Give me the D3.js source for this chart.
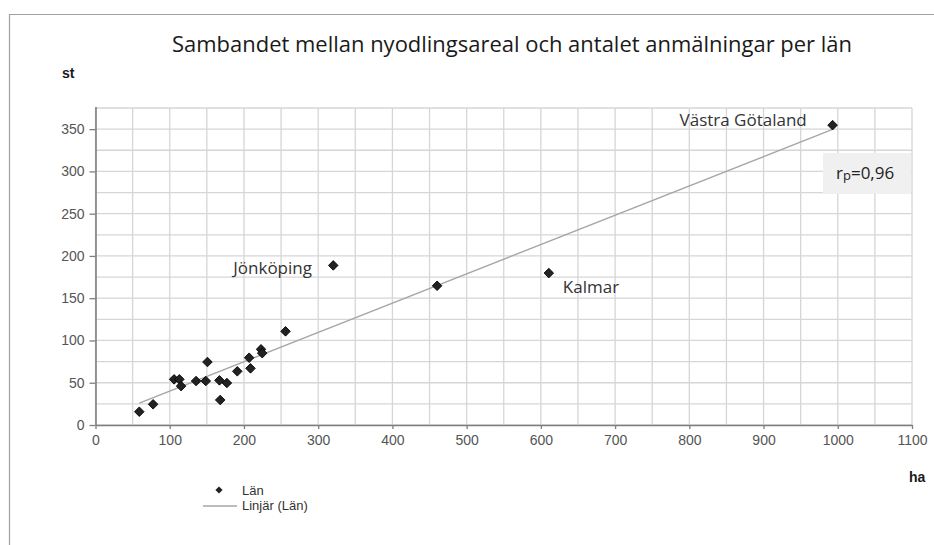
<!DOCTYPE html>
<html>
<head>
<meta charset="utf-8">
<script src="https://cdn.jsdelivr.net/npm/d3@7"></script>
<style>
  html, body { margin: 0; padding: 0; background: #fff; }
  svg { display: block; }
</style>
</head>
<body>
<svg id="chart" width="934" height="545"></svg>
<script>
// Nyodlingsareal (ha) and antal anmälningar (st) for each of the 21 län
const areaHa = [59, 77.6, 105.9, 113, 115.3, 135.5, 148.6, 150.8, 167, 168, 177,
                191, 207, 208.8, 223, 224.6, 256, 320.3, 460.2, 610.7, 993];
const registrations = [15.7, 24.5, 54, 54, 46, 52, 52, 74.5, 52.8, 29.6, 49.7,
                       63.5, 79.6, 67, 89.5, 85, 110.8, 188.8, 164.7, 179.7, 354.7];

// Named län shown next to their points (index into the arrays above)
const namedLan = ["Jönköping", "Kalmar", "Västra Götaland"];
const namedIndex = [17, 19, 20];

const xTicks = [0, 100, 200, 300, 400, 500, 600, 700, 800, 900, 1000, 1100];
const yTicks = [0, 50, 100, 150, 200, 250, 300, 350];
const xGrid = d3.range(0, 1101, 50);
const yGrid = d3.range(0, 376, 25);

const titleText = "Sambandet mellan nyodlingsareal och antalet anmälningar per län";
const corrText = { base: "r", sub: "p", rest: "=0,96" };
const legendItems = ["Län", "Linjär (Län)"];

const svg = d3.select("#chart");

const x = d3.scaleLinear().domain([0, 1100]).range([95.5, 912]);
const y = d3.scaleLinear().domain([0, 375]).range([425, 108]);

// chart-area border (top and left edges visible)
svg.append("path")
  .attr("d", "M9.5,545 V14.5 H934")
  .attr("fill", "none").attr("stroke", "#a0a0a0").attr("stroke-width", 1.2);

const textFont = "'Open Sans', 'Noto Sans', sans-serif";
const axisFont = "'Liberation Sans', Arial, sans-serif";

// title
svg.append("text")
  .attr("x", 512).attr("y", 52)
  .attr("text-anchor", "middle")
  .attr("font-family", textFont)
  .attr("font-size", 21)
  .attr("fill", "#1a1a1a")
  .attr("textLength", 680).attr("lengthAdjust", "spacingAndGlyphs")
  .text(titleText);

// axis unit labels
svg.append("text").attr("x", 62).attr("y", 78)
  .attr("font-family", axisFont)
  .attr("font-weight", "bold").attr("font-size", 14).attr("fill", "#1a1a1a")
  .text("st");
svg.append("text").attr("x", 909).attr("y", 482)
  .attr("font-family", axisFont)
  .attr("font-weight", "bold").attr("font-size", 14).attr("fill", "#1a1a1a")
  .text("ha");

// grid
const grid = svg.append("g").attr("stroke", "#d6d6d6").attr("stroke-width", 1.3);
grid.selectAll("line.v").data(xGrid).join("line").attr("class", "v")
  .attr("x1", d => x(d)).attr("x2", d => x(d))
  .attr("y1", y(0)).attr("y2", y(375));
grid.selectAll("line.h").data(yGrid).join("line").attr("class", "h")
  .attr("x1", x(0)).attr("x2", x(1100))
  .attr("y1", d => y(d)).attr("y2", d => y(d));

// axes
const xAxis = svg.append("g").attr("transform", `translate(0,${y(0)})`)
  .call(d3.axisBottom(x).tickValues(xTicks).tickFormat(d3.format("d"))
    .tickSize(4).tickPadding(6).tickSizeOuter(0));
const yAxis = svg.append("g").attr("transform", `translate(${x(0)},0)`)
  .call(d3.axisLeft(y).tickValues(yTicks).tickFormat(d3.format("d"))
    .tickSize(6).tickPadding(5).tickSizeOuter(0));
[xAxis, yAxis].forEach(g => {
  g.select(".domain").attr("stroke", "#7f7f7f").attr("stroke-width", 1.6);
  g.selectAll(".tick line").attr("stroke", "#7f7f7f").attr("stroke-width", 1.3);
  g.selectAll(".tick text").attr("fill", "#555").attr("font-family", axisFont)
    .attr("font-size", 14);
});
yAxis.select(".domain").attr("d", `M0.5,${y(0)}V${y(375) - 1}`);

// linear trend line (least squares) over the data range
const n = areaHa.length;
const mx = d3.mean(areaHa), my = d3.mean(registrations);
let sxy = 0, sxx = 0;
for (let i = 0; i < n; i++) {
  sxy += (areaHa[i] - mx) * (registrations[i] - my);
  sxx += (areaHa[i] - mx) ** 2;
}
const slope = sxy / sxx, intercept = my - slope * mx;
const [xMin, xMax] = d3.extent(areaHa);
svg.append("line")
  .attr("x1", x(xMin)).attr("y1", y(intercept + slope * xMin))
  .attr("x2", x(xMax)).attr("y2", y(intercept + slope * xMax))
  .attr("stroke", "#a6a6a6").attr("stroke-width", 1.4);

// points
const diamond = d3.symbol().type(d3.symbolSquare).size(46);
svg.append("g").selectAll("path").data(areaHa.map((a, i) => [a, registrations[i]]))
  .join("path")
  .attr("d", diamond)
  .attr("transform", d => `translate(${x(d[0])},${y(d[1])}) rotate(45)`)
  .attr("fill", "#222").attr("stroke", "#000").attr("stroke-width", 0.8);

// point labels
const labelOffsets = { "Jönköping": [-100, 9], "Kalmar": [14, 20], "Västra Götaland": [-153, 1] };
namedLan.forEach((name, k) => {
  const i = namedIndex[k];
  const [dx, dy] = labelOffsets[name];
  svg.append("text")
    .attr("x", x(areaHa[i]) + dx).attr("y", y(registrations[i]) + dy)
    .attr("font-family", textFont).attr("font-size", 17).attr("fill", "#333")
    .text(name);
});

// correlation box
svg.append("rect").attr("x", 823).attr("y", 153).attr("width", 88).attr("height", 41)
  .attr("fill", "#f0f0f0");
const corr = svg.append("text").attr("x", 836).attr("y", 179)
  .attr("font-family", textFont).attr("font-size", 17).attr("fill", "#222");
corr.append("tspan").text(corrText.base);
corr.append("tspan").attr("font-size", 13).attr("dy", 1).text(corrText.sub);
corr.append("tspan").attr("dy", -1).text(corrText.rest);

// legend
const leg = svg.append("g").attr("font-family", axisFont).attr("font-size", 13).attr("fill", "#333");
leg.append("path").attr("d", d3.symbol().type(d3.symbolSquare).size(26))
  .attr("transform", "translate(219,490) rotate(45)").attr("fill", "#222");
leg.append("text").attr("x", 242).attr("y", 495).text(legendItems[0]);
leg.append("line").attr("x1", 203).attr("x2", 237).attr("y1", 506).attr("y2", 506)
  .attr("stroke", "#a6a6a6").attr("stroke-width", 1.4);
leg.append("text").attr("x", 242).attr("y", 510).text(legendItems[1]);
</script>
</body>
</html>
